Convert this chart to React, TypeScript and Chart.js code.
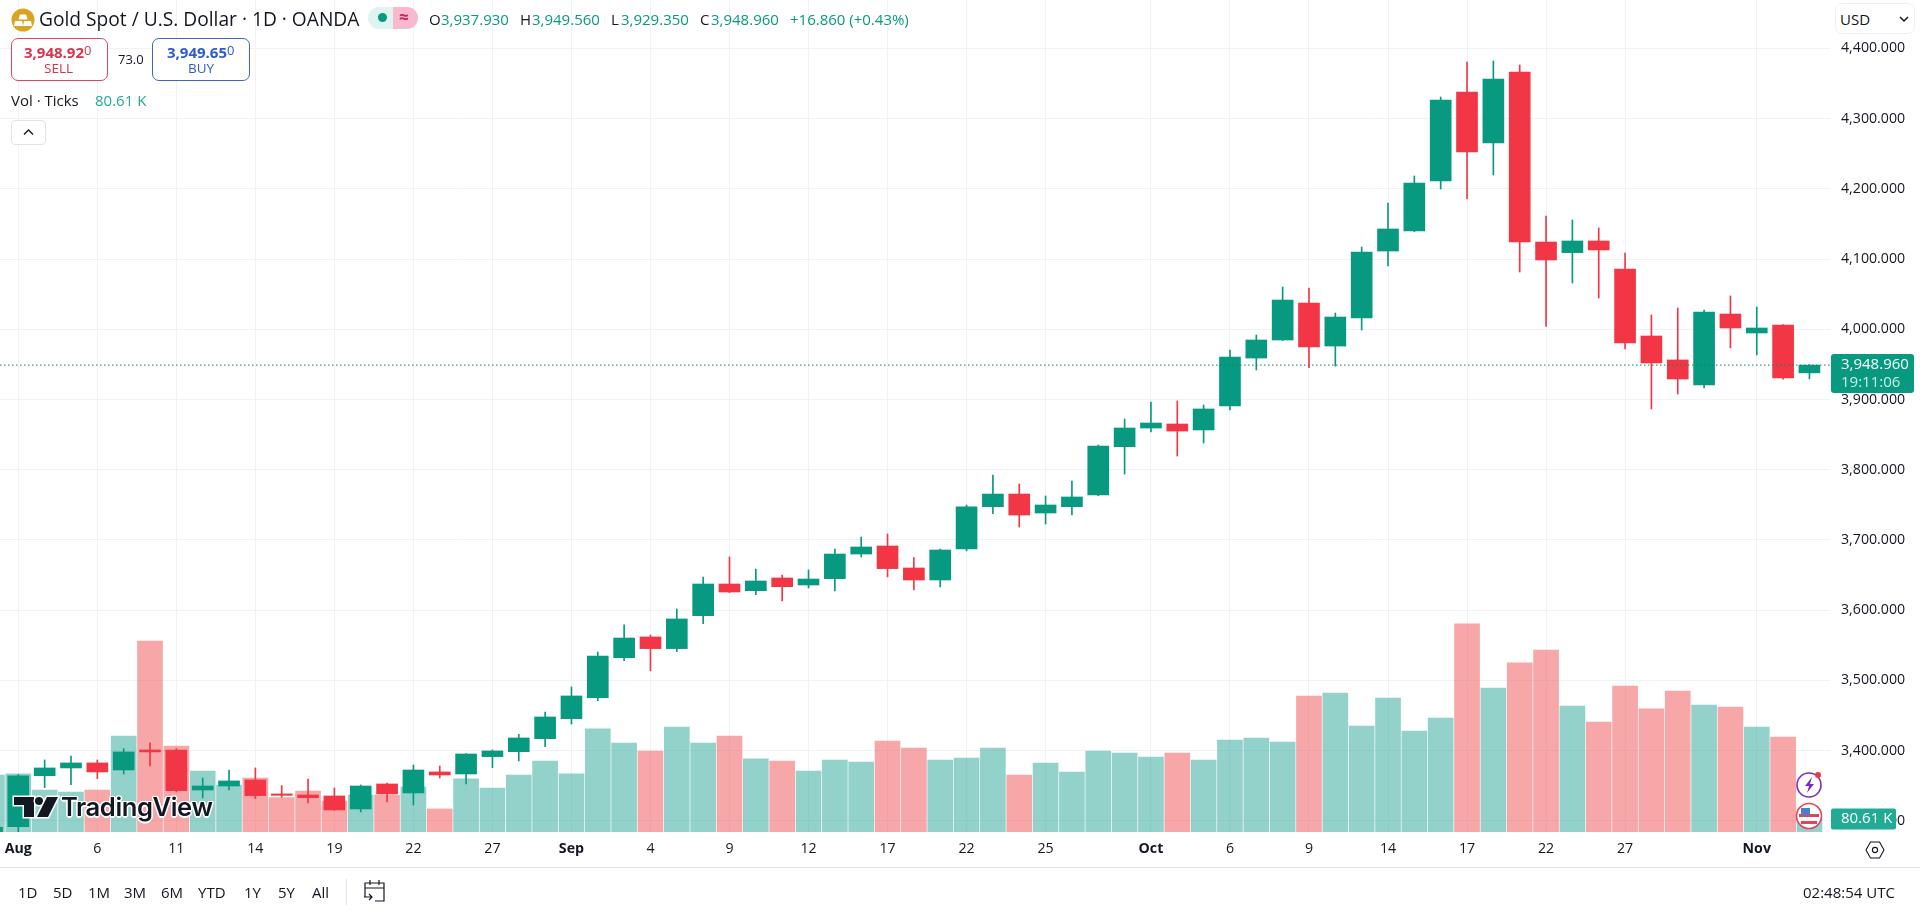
import React from "react";
import { Chart, ChartConfiguration, Plugin, registerables } from "chart.js";

Chart.register(...registerables);

const OPEN = [
  3275, 3291.8, 3364.4, 3375.4, 3382.5, 3372.5, 3401, 3401, 3344, 3349.7,
  3358.3, 3338.4, 3336.9, 3335.5, 3317, 3352.6, 3339.8, 3369.7, 3366.8, 3391.5,
  3398.6, 3417.1, 3445.6, 3475.5, 3532.4, 3561.9, 3545.3, 3592.2, 3637.3, 3627.8,
  3645.9, 3635.9, 3644.9, 3680, 3691.4, 3660.1, 3643, 3687.1, 3747.4, 3765.4,
  3738.4, 3747.4, 3764, 3832.8, 3859.4, 3865.1, 3856.6, 3890.7, 3959, 3984.7,
  4037.4, 3976.1, 4016, 4111.4, 4139.9, 4211.1, 4337.8, 4265.2, 4366.3, 4124.2,
  4109.1, 4125.7, 4085.8, 3990.4, 3956.3, 3920.7, 4021.7, 3994.7, 4006.1, 3937.93,
];
const HIGH = [
  3298, 3366, 3386.8, 3392.4, 3386.8, 3402.9, 3411, 3402.9, 3361.1, 3372.5,
  3375.4, 3350.2, 3359.7, 3346.9, 3351.2, 3354, 3379.6, 3378.2, 3395.8, 3401,
  3423.3, 3455.1, 3490.7, 3540.5, 3579, 3564.7, 3601.7, 3647.3, 3675.8, 3658.7,
  3650.1, 3657.3, 3687.1, 3704.2, 3708.5, 3674.8, 3687.1, 3749.8, 3792.5, 3779.7,
  3762.6, 3784, 3835.2, 3872.2, 3896.4, 3897.9, 3892.2, 3970.5, 3991.8, 4060.1,
  4058.7, 4023.1, 4117.1, 4179.8, 4218.2, 4330.7, 4380.5, 4381.9, 4376.2, 4161.3,
  4155.6, 4144.2, 4108.6, 4020.3, 4030.3, 4027.4, 4047.4, 4031.7, 4006.6, 3949.56,
];
const LOW = [
  3268, 3284.7, 3347.4, 3351.6, 3360.2, 3366.8, 3378.2, 3341.2, 3332.6, 3344,
  3331.7, 3333.6, 3325.5, 3315, 3312.7, 3327, 3322.7, 3361.1, 3352.6, 3375.8,
  3385.3, 3405.7, 3438, 3471.2, 3528.2, 3513.9, 3541, 3580.8, 3625, 3622.1,
  3613.1, 3631.6, 3627.4, 3675.8, 3647.3, 3628.8, 3633.1, 3684.3, 3737.4, 3718.4,
  3722.7, 3735.5, 3763, 3793.9, 3853.7, 3819.5, 3838.1, 3885, 3942, 3984,
  3945.3, 3947.7, 3999, 4090.1, 4139, 4199.7, 4185.5, 4219.6, 4081.5, 4004.2,
  4065.9, 4044.5, 3971.9, 3886.5, 3907.8, 3916.4, 3973.4, 3963.4, 3929, 3929.35,
];
const CLOSE = [
  3291, 3364, 3375.4, 3382.5, 3369.7, 3398.2, 3398.2, 3343, 3349.7, 3356.9,
  3336, 3336.4, 3333.1, 3315.6, 3349.7, 3338.4, 3372.5, 3365.4, 3395.3, 3399.6,
  3418.1, 3448, 3477.9, 3534.8, 3560.4, 3545.3, 3587.5, 3637.3, 3625.9, 3641.6,
  3633.5, 3644.4, 3680, 3690, 3659.2, 3643, 3685.7, 3747, 3765.4, 3735.5,
  3749.8, 3761.2, 3833.8, 3859.4, 3866.5, 3855.1, 3886.5, 3960.5, 3984.7, 4041.6,
  3974.7, 4017.4, 4110, 4142.8, 4208.2, 4326.4, 4252.4, 4356.3, 4124.2, 4098.6,
  4125.7, 4112.9, 3980.4, 3952, 3929.2, 4024.6, 4001.8, 4001.8, 3930.6, 3948.96,
];
// volume in thousands of ticks
const VOLUME = [
  353, 360, 260, 248, 260, 595, 1184, 533, 378, 291,
  335, 213, 254, 192, 229, 229, 279, 143, 329, 273,
  353, 440, 360, 639, 552, 502, 651, 552, 595, 453,
  440, 378, 446, 434, 564, 521, 446, 459, 521, 353,
  428, 372, 502, 490, 465, 490, 446, 570, 583, 558,
  843, 862, 657, 831, 626, 707, 1290, 893, 1048, 1128,
  781, 682, 905, 763, 874, 787, 775, 651, 589, 80.61,
];

const PRICE_TICKS = [3300, 3400, 3500, 3600, 3700, 3800, 3900, 4000, 4100, 4200, 4300, 4400];
const TIME_TICKS = [0, 3, 6, 9, 12, 15, 18, 21, 24, 27, 30, 33, 36, 39, 43, 46, 49, 52, 55, 58, 61, 66];
const TIME_LABELS = ["Aug", "6", "11", "14", "19", "22", "27", "Sep", "4", "9", "12", "17", "22", "25", "Oct", "6", "9", "14", "17", "22", "27", "Nov"];
const MONTHS = ["Aug", "Sep", "Oct", "Nov"];
const RANGES = ["1D", "5D", "1M", "3M", "6M", "YTD", "1Y", "5Y", "All"];
const RANGE_X = [18, 53, 88, 124, 161, 198, 244, 278, 312];

const LAST_PRICE = 3948.96;
const LAST_VOLUME = 80.61;

const UP = "#089981";
const DOWN = "#F23645";
const FONT = '"Open Sans", sans-serif';
const X_MIN = -0.695;
const X_MAX = 68.78;

const barIndex = (i: number) => i - 1; // first row is the bar left of the visible edge
const isUp = (i: number) => CLOSE[i] >= OPEN[i];

const priceTags: Plugin<"bar"> = {
  id: "priceTags",
  afterDraw(chart) {
    const { ctx, scales } = chart;
    const left = 1830;
    const py = scales.y.getPixelForValue(LAST_PRICE);
    ctx.save();
    ctx.fillStyle = UP;
    ctx.beginPath();
    ctx.roundRect(left + 1, py - 11, 83, 39, 3);
    ctx.fill();
    ctx.textBaseline = "middle";
    ctx.font = `15px ${FONT}`;
    ctx.fillStyle = "#ffffff";
    ctx.fillText("3,948.960", left + 11, py - 0.5);
    ctx.fillStyle = "#cdeee6";
    ctx.fillText("19:11:06", left + 11, py + 18);

    const vy = scales.vol.getPixelForValue(LAST_VOLUME);
    ctx.fillStyle = "#22AB94";
    ctx.beginPath();
    ctx.roundRect(left + 1, vy - 10.5, 65, 21, 2);
    ctx.fill();
    ctx.fillStyle = "#ffffff";
    ctx.fillText("80.61 K", left + 11, vy);
    ctx.restore();
  },
};

const GoldChart: React.FC = () => {
  const canvasRef = React.useRef<HTMLCanvasElement | null>(null);

  React.useEffect(() => {
    const canvas = canvasRef.current;
    if (!canvas) return;

    const config: ChartConfiguration<"bar"> = {
      type: "bar",
      data: {
        datasets: [
          {
            label: "last",
            type: "line",
            data: [
              { x: X_MIN, y: LAST_PRICE },
              { x: X_MAX, y: LAST_PRICE },
            ],
            borderColor: "#0a7f6c",
            borderWidth: 1,
            borderDash: [1.5, 2.5],
            pointRadius: 0,
            order: 0,
            yAxisID: "y",
          } as any,
          {
            label: "body",
            data: OPEN.map((o, i) => ({ x: barIndex(i), y: [o, CLOSE[i]] })) as any,
            backgroundColor: OPEN.map((_, i) => (isUp(i) ? UP : DOWN)),
            barThickness: 21,
            order: 1,
            yAxisID: "y",
          },
          {
            label: "wick",
            data: LOW.map((l, i) => ({ x: barIndex(i), y: [l, HIGH[i]] })) as any,
            backgroundColor: OPEN.map((_, i) => (isUp(i) ? UP : DOWN)),
            barThickness: 1,
            order: 2,
            yAxisID: "y",
          },
          {
            label: "Vol",
            data: VOLUME.map((v, i) => ({ x: barIndex(i), y: v })) as any,
            backgroundColor: OPEN.map((_, i) =>
              isUp(i) ? "rgba(40,165,150,0.5)" : "rgba(240,80,80,0.5)"
            ),
            barThickness: 25,
            order: 3,
            yAxisID: "vol",
          },
        ],
      },
      options: {
        animation: false,
        responsive: false,
        layout: { padding: 0 },
        datasets: { bar: { grouped: false, borderWidth: 0, borderSkipped: false } },
        plugins: { legend: { display: false }, tooltip: { enabled: false } },
        scales: {
          x: {
            type: "linear",
            min: X_MIN,
            max: X_MAX,
            offset: false,
            border: { display: false },
            grid: { offset: false, color: "#f0f2f6", drawTicks: false },
            afterBuildTicks: (axis) => {
              axis.ticks = TIME_TICKS.map((value) => ({ value }));
            },
            afterFit: (axis: any) => {
              axis.height = 84;
              axis.paddingLeft = 0;
              axis.paddingRight = 0;
            },
            ticks: {
              autoSkip: false,
              maxRotation: 0,
              padding: 8,
              color: "#131722",
              font: (ctx: any) => ({
                family: FONT,
                size: 14.2,
                weight: MONTHS.includes(ctx.tick?.label) ? "bold" : "normal",
              }),
              callback: (value) => TIME_LABELS[TIME_TICKS.indexOf(Number(value))],
            },
          },
          y: {
            type: "linear",
            position: "right",
            min: 3284.2,
            max: 4468.8,
            border: { display: false },
            grid: { color: "#f0f2f6", drawTicks: false },
            afterBuildTicks: (axis) => {
              axis.ticks = PRICE_TICKS.map((value) => ({ value }));
            },
            afterFit: (axis: any) => {
              axis.width = 90;
              axis.paddingTop = 0;
              axis.paddingBottom = 0;
            },
            ticks: {
              padding: 11,
              color: "#131722",
              font: { family: FONT, size: 14.2 },
              callback: (value) =>
                Number(value).toLocaleString("en-US", { minimumFractionDigits: 3 }),
            },
          },
          vol: {
            type: "linear",
            axis: "y",
            display: false,
            min: 0,
            max: 5158,
          },
        },
      },
      plugins: [priceTags],
    };

    const chart = new Chart(canvas, config);
    return () => {
      chart.destroy();
    };
  }, []);

  return <canvas ref={canvasRef} width={1920} height={916} style={{ display: "block" }} />;
};

const Txt: React.FC<{
  x: number;
  y: number;
  size?: number;
  color?: string;
  bold?: boolean;
  children: React.ReactNode;
}> = ({ x, y, size = 15, color = "#131722", bold, children }) => (
  <span
    style={{
      position: "absolute",
      left: x,
      top: y - 12,
      lineHeight: "24px",
      fontSize: size,
      color,
      fontWeight: bold ? 700 : 400,
      whiteSpace: "nowrap",
    }}
  >
    {children}
  </span>
);

const box = (x: number, y: number, w: number, h: number, border: string): React.CSSProperties => ({
  position: "absolute",
  left: x,
  top: y,
  width: w,
  height: h,
  boxSizing: "border-box",
  border: `1px solid ${border}`,
  borderRadius: 7,
  background: "#fff",
});

const Overlay: React.FC = () => (
  <>
    {/* header */}
    <svg style={{ position: "absolute", left: 11, top: 8 }} width="24" height="24">
      <circle cx="12" cy="12" r="11.5" fill="#D9A520" />
      <path d="M9 6h6l1.5 5h-9zM4 12.5h7l1 5H3zM13 12.5h7l1 5h-9z" fill="#fff" transform="translate(0,0.5)" />
    </svg>
    <Txt x={39} y={19} size={19.2}>Gold Spot / U.S. Dollar · 1D · OANDA</Txt>
    <div style={{ position: "absolute", left: 368, top: 7, width: 25, height: 22, background: "#DFF3EF", borderRadius: "11px 0 0 11px" }} />
    <div style={{ position: "absolute", left: 393, top: 7, width: 25, height: 22, background: "#F7B9CE", borderRadius: "0 11px 11px 0" }} />
    <div style={{ position: "absolute", left: 378, top: 13, width: 9, height: 9, borderRadius: 5, background: UP }} />
    <Txt x={399} y={17} size={17} color="#D81B60" bold>≈</Txt>

    <Txt x={429} y={19}>O</Txt>
    <Txt x={441} y={19} color={UP}>3,937.930</Txt>
    <Txt x={520} y={19}>H</Txt>
    <Txt x={532} y={19} color={UP}>3,949.560</Txt>
    <Txt x={611} y={19}>L</Txt>
    <Txt x={621} y={19} color={UP}>3,929.350</Txt>
    <Txt x={700} y={19}>C</Txt>
    <Txt x={711} y={19} color={UP}>3,948.960</Txt>
    <Txt x={790} y={19} color={UP}>+16.860 (+0.43%)</Txt>

    <div style={box(11, 38, 97, 43, "#E0455A")} />
    <Txt x={24} y={50} color="#D8334A" bold>3,948.92<span style={{ fontWeight: 400, fontSize: 13, verticalAlign: 3 }}>0</span></Txt>
    <Txt x={44} y={68} size={13.5} color="#D8334A">SELL</Txt>
    <Txt x={118} y={59} size={13}>73.0</Txt>
    <div style={box(152, 38, 98, 43, "#3F63C8")} />
    <Txt x={167} y={50} color="#2F5BD0" bold>3,949.65<span style={{ fontWeight: 400, fontSize: 13, verticalAlign: 3 }}>0</span></Txt>
    <Txt x={188} y={68} size={13.5} color="#2F5BD0">BUY</Txt>

    <Txt x={11} y={100}>Vol · Ticks</Txt>
    <Txt x={95} y={100} color="#22AB94">80.61 K</Txt>

    <div style={{ ...box(11, 120, 35, 25, "#E0E3EB"), borderRadius: 4 }}>
      <svg width="33" height="23">
        <path d="M12 13.5l4.5-4.5 4.5 4.5" fill="none" stroke="#131722" strokeWidth="1.3" />
      </svg>
    </div>

    {/* currency button */}
    <div style={{ ...box(1835, 3, 80, 31, "#EDEFF3") }}>
      <svg style={{ position: "absolute", left: 62, top: 10 }} width="12" height="10">
        <path d="M2 3l4 4 4-4" fill="none" stroke="#131722" strokeWidth="1.5" />
      </svg>
    </div>
    <Txt x={1840} y={19}>USD</Txt>

    {/* watermark */}
    <svg style={{ position: "absolute", left: 10, top: 792, overflow: "visible" }} width="48" height="30">
      <g stroke="#fff" strokeWidth="3" paintOrder="stroke" fill="#131722">
        <path d="M4 5h20v20h-10v-12h-10z" />
        <circle cx="29" cy="9" r="4" />
        <path d="M37 5h11l-10 20h-11z" />
      </g>
    </svg>
    <span
      style={{
        position: "absolute",
        left: 61,
        top: 790,
        lineHeight: "34px",
        fontFamily: "Inter, sans-serif",
        fontSize: 25.6,
        fontWeight: 600,
        letterSpacing: -0.4,
        color: "#131722",
        textShadow: "-1.5px 0 #fff, 1.5px 0 #fff, 0 -1.5px #fff, 0 1.5px #fff, -1px -1px #fff, 1px 1px #fff, -1px 1px #fff, 1px -1px #fff",
      }}
    >
      TradingView
    </span>

    {/* round badges at the right of the bars */}
    <svg style={{ position: "absolute", left: 1795, top: 769 }} width="30" height="30">
      <circle cx="14" cy="16" r="12" fill="#fff" stroke="#7B2CBF" strokeWidth="1.6" />
      <path d="M17 8l-7 9h4l-2 7 7-9h-4z" fill="#7B2CBF" />
      <circle cx="23" cy="6" r="3" fill="#F23645" />
    </svg>
    <svg style={{ position: "absolute", left: 1795, top: 802 }} width="28" height="28">
      <circle cx="14" cy="14" r="12.5" fill="#fff" stroke="#E0455A" strokeWidth="1.6" />
      <path d="M4 12h20v3H4zM6 19h16v3H6z" fill="#E0455A" />
      <path d="M6 6h9v7H6z" fill="#4A7FD0" />
    </svg>

    {/* settings hexagon */}
    <svg style={{ position: "absolute", left: 1865, top: 840 }} width="20" height="20">
      <path d="M5.5 2h9l4.5 8-4.5 8h-9L1 10z" fill="none" stroke="#131722" strokeWidth="1.1" />
      <circle cx="10" cy="10" r="2.6" fill="none" stroke="#131722" strokeWidth="1.1" />
    </svg>

    {/* bottom toolbar */}
    <div style={{ position: "absolute", left: 0, top: 867, width: 1920, height: 1, background: "#E0E3EB" }} />
    {RANGES.map((r, i) => (
      <Txt key={r} x={RANGE_X[i]} y={892}>{r}</Txt>
    ))}
    <div style={{ position: "absolute", left: 346, top: 879, width: 1, height: 26, background: "#E0E3EB" }} />
    <svg style={{ position: "absolute", left: 362, top: 879 }} width="26" height="25">
      <path
        d="M3 18V4h19v18h-9M3 9h19M8 1v5M17 1v5M2 18h8M7 15l3 3-3 3"
        fill="none"
        stroke="#131722"
        strokeWidth="1.2"
      />
    </svg>
    <Txt x={1803} y={892}>02:48:54 UTC</Txt>
  </>
);

export default function App() {
  return (
    <div
      style={{
        position: "absolute",
        left: 0,
        top: 0,
        width: 1920,
        height: 916,
        overflow: "hidden",
        background: "#fff",
        fontFamily: FONT,
      }}
    >
      <GoldChart />
      <Overlay />
    </div>
  );
}
